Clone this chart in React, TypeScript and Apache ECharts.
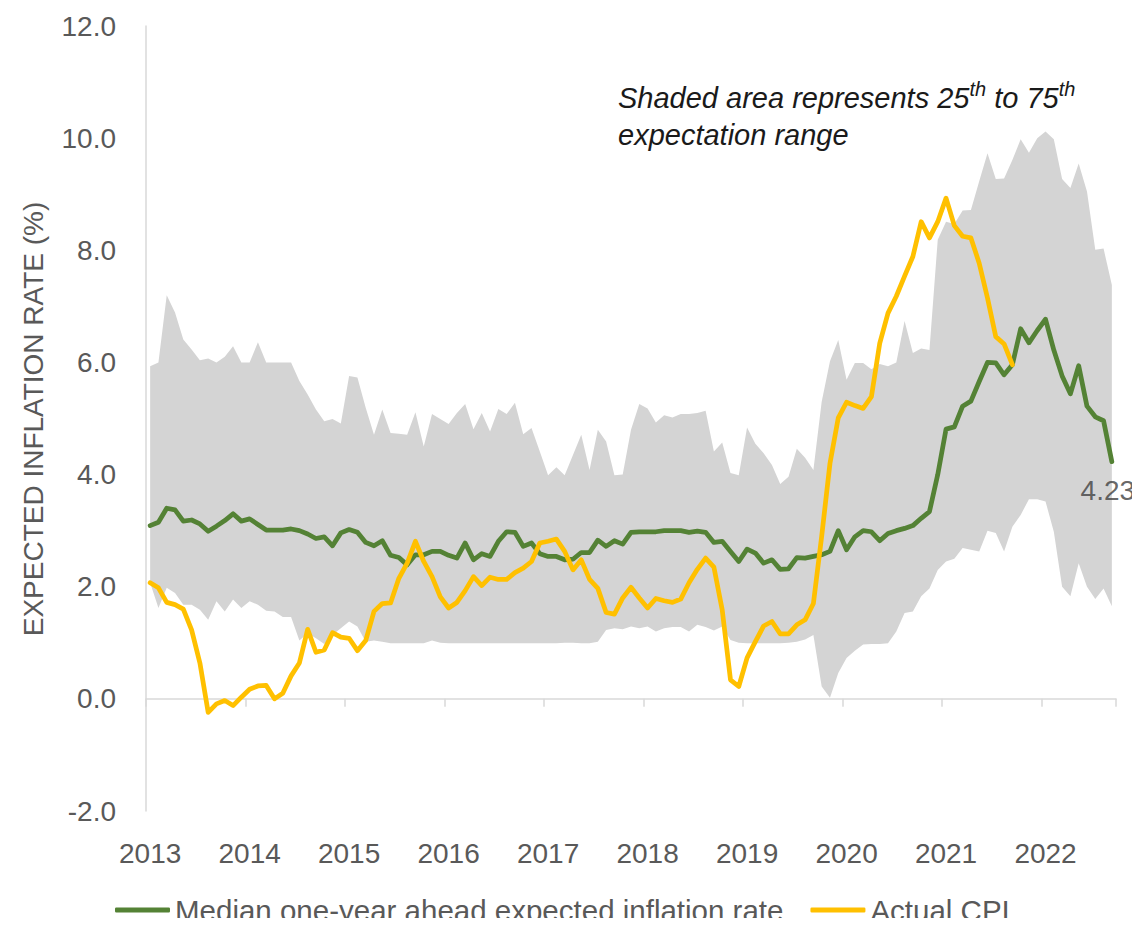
import React, { useEffect, useRef } from 'react';
import * as echarts from 'echarts';

const YEARS = ['2013', '2014', '2015', '2016', '2017', '2018', '2019', '2020', '2021', '2022'];
const MONTHS = ['Jan', 'Feb', 'Mar', 'Apr', 'May', 'Jun', 'Jul', 'Aug', 'Sep', 'Oct', 'Nov', 'Dec'];

// Median one-year ahead expected inflation rate (Jan 2013 - Sep 2022)
const MEDIAN = [
  3.09, 3.15, 3.40, 3.37, 3.17, 3.19, 3.12, 2.99, 3.08, 3.18, 3.30, 3.17,
  3.21, 3.11, 3.01, 3.01, 3.01, 3.03, 3.00, 2.94, 2.86, 2.89, 2.73, 2.96,
  3.02, 2.97, 2.79, 2.73, 2.82, 2.56, 2.52, 2.39, 2.57, 2.57, 2.63, 2.63,
  2.56, 2.51, 2.78, 2.48, 2.59, 2.54, 2.81, 2.98, 2.97, 2.72, 2.78, 2.59,
  2.54, 2.54, 2.48, 2.49, 2.61, 2.61, 2.83, 2.72, 2.82, 2.76, 2.97, 2.98,
  2.98, 2.98, 3.00, 3.00, 3.00, 2.97, 2.99, 2.97, 2.79, 2.81, 2.63, 2.45,
  2.67, 2.60, 2.42, 2.48, 2.31, 2.32, 2.52, 2.51, 2.54, 2.57, 2.63, 3.00,
  2.66, 2.89, 3.00, 2.98, 2.82, 2.95, 3.00, 3.04, 3.09, 3.22, 3.34, 4.00,
  4.81, 4.85, 5.22, 5.31, 5.66, 6.00, 5.99, 5.78, 5.96, 6.60, 6.35, 6.57,
  6.77, 6.22, 5.76, 5.44, 5.94, 5.22, 5.03, 4.96, 4.23,
];

// Actual CPI (Jan 2013 - Sep 2021)
const CPI = [
  2.07, 1.98, 1.72, 1.68, 1.60, 1.23, 0.64, -0.24, -0.09, -0.03, -0.12, 0.03,
  0.17, 0.23, 0.24, 0.00, 0.10, 0.41, 0.64, 1.24, 0.83, 0.87, 1.18, 1.10,
  1.08, 0.86, 1.04, 1.56, 1.70, 1.71, 2.15, 2.42, 2.81, 2.45, 2.18, 1.82,
  1.62, 1.72, 1.93, 2.18, 2.02, 2.17, 2.13, 2.13, 2.25, 2.33, 2.45, 2.78,
  2.81, 2.85, 2.63, 2.30, 2.48, 2.13, 1.97, 1.54, 1.51, 1.80, 1.99, 1.80,
  1.62, 1.79, 1.75, 1.72, 1.78, 2.07, 2.31, 2.51, 2.35, 1.59, 0.34, 0.22,
  0.73, 1.02, 1.30, 1.38, 1.16, 1.16, 1.32, 1.41, 1.70, 2.90, 4.20, 5.01,
  5.29, 5.23, 5.18, 5.39, 6.34, 6.88, 7.18, 7.54, 7.89, 8.51, 8.22, 8.51,
  8.93, 8.44, 8.25, 8.22, 7.77, 7.15, 6.46, 6.33, 5.96,
];

// 75th percentile of expectations
const P75 = [
  5.93, 6.00, 7.20, 6.89, 6.41, 6.23, 6.04, 6.07, 6.00, 6.10, 6.29, 6.00,
  6.00, 6.36, 6.00, 6.00, 6.00, 6.00, 5.67, 5.43, 5.16, 4.95, 4.99, 4.91,
  5.76, 5.73, 5.19, 4.71, 5.16, 4.74, 4.73, 4.71, 5.11, 4.50, 5.08, 4.99,
  4.90, 5.10, 5.26, 4.81, 5.10, 4.77, 5.17, 5.08, 5.28, 4.72, 4.83, 4.41,
  3.99, 4.13, 3.99, 4.35, 4.71, 4.08, 4.80, 4.59, 3.99, 4.00, 4.80, 5.26,
  5.18, 4.93, 5.06, 5.02, 5.08, 5.08, 5.10, 5.14, 4.41, 4.57, 4.03, 3.99,
  4.84, 4.55, 4.38, 4.17, 3.83, 3.96, 4.46, 4.30, 4.08, 5.30, 6.02, 6.40,
  5.69, 5.99, 5.99, 5.88, 5.97, 5.93, 6.00, 6.74, 6.17, 6.25, 6.22, 8.19,
  8.51, 8.47, 8.71, 8.72, 9.23, 9.73, 9.27, 9.28, 9.61, 9.98, 9.74, 10.00,
  10.12, 9.98, 9.27, 9.11, 9.55, 9.05, 8.01, 8.03, 7.38,
];

// 25th percentile of expectations
const P25 = [
  2.07, 1.62, 1.98, 1.89, 1.68, 1.68, 1.59, 1.41, 1.74, 1.56, 1.77, 1.62,
  1.74, 1.68, 1.57, 1.56, 1.46, 1.46, 1.04, 1.17, 1.08, 0.98, 1.14, 1.26,
  1.38, 1.29, 1.02, 1.04, 1.02, 0.99, 0.99, 0.99, 0.99, 0.99, 1.04, 1.00,
  0.99, 0.99, 0.99, 0.99, 0.99, 0.99, 0.99, 0.99, 0.99, 0.99, 0.99, 0.99,
  0.99, 0.99, 1.00, 1.00, 0.99, 0.99, 1.02, 1.23, 1.26, 1.24, 1.29, 1.26,
  1.29, 1.20, 1.26, 1.28, 1.28, 1.20, 1.32, 1.28, 1.22, 1.29, 1.05, 1.00,
  0.99, 0.99, 0.99, 0.99, 0.99, 1.00, 1.02, 1.06, 1.14, 0.22, 0.02, 0.46,
  0.73, 0.86, 0.97, 0.98, 0.98, 0.99, 1.20, 1.53, 1.56, 1.83, 1.97, 2.30,
  2.45, 2.50, 2.69, 2.66, 2.63, 3.00, 2.96, 2.63, 3.07, 3.28, 3.56, 3.56,
  3.52, 2.98, 2.00, 1.83, 2.42, 2.00, 1.78, 1.97, 1.65,
];

const Y_MIN = -2;
const Y_MAX = 12;
const Y_STEP = 2;

const MEDIAN_NAME = 'Median one-year ahead expected inflation rate';
const CPI_NAME = 'Actual CPI';
const Y_TITLE = 'EXPECTED INFLATION RATE (%)';

const CATEGORIES: string[] = [];
YEARS.forEach((y) => MONTHS.forEach((m) => CATEGORIES.push(`${m} ${y}`)));
const CATS = CATEGORIES.slice(0, MEDIAN.length);

const FONT = '"Liberation Sans", Arial, sans-serif';
const GREEN = '#548235';
const YELLOW = '#FFC000';
const AXIS_GRAY = '#D9D9D9';
const TEXT_GRAY = '#595959';

export default function App() {
  const ref = useRef<HTMLDivElement>(null);

  useEffect(() => {
    if (!ref.current) return;
    const chart = echarts.init(ref.current, undefined, { renderer: 'svg' });
    const bandWidth = P75.map((v, i) => +(v - P25[i]).toFixed(2));
    const lastIdx = MEDIAN.length - 1;

    chart.setOption({
      animation: false,
      backgroundColor: '#ffffff',
      textStyle: { fontFamily: FONT },
      grid: {
        left: 146,
        right: 24,
        top: 26,
        bottom: 115,
        containLabel: false,
        outerBoundsMode: 'none',
      },
      legend: {
        data: [{ name: MEDIAN_NAME }, { name: CPI_NAME }],
        left: 110,
        top: 890,
        icon: 'roundRect',
        itemWidth: 55,
        itemHeight: 5,
        itemGap: 27,
        selectedMode: false,
        textStyle: { fontSize: 29.5, color: TEXT_GRAY, fontFamily: FONT },
      },
      xAxis: {
        type: 'category',
        data: CATS,
        boundaryGap: true,
        axisLine: { show: true, onZero: true, lineStyle: { color: AXIS_GRAY, width: 1.5 } },
        axisTick: {
          show: true,
          interval: (i: number) => i % 12 === 0,
          length: 8,
          lineStyle: { color: AXIS_GRAY, width: 1.5 },
        },
        axisLabel: {
          interval: (i: number) => i % 12 === 0,
          formatter: (v: string) => v.slice(-4),
          margin: 28,
          fontSize: 28,
          color: TEXT_GRAY,
          fontFamily: FONT,
        },
        splitLine: { show: false },
      },
      yAxis: {
        type: 'value',
        min: Y_MIN,
        max: Y_MAX,
        interval: Y_STEP,
        axisLine: { show: true, lineStyle: { color: AXIS_GRAY, width: 1.5 } },
        axisTick: { show: false },
        splitLine: { show: false },
        axisLabel: {
          formatter: (v: number) => v.toFixed(1),
          margin: 30,
          fontSize: 28,
          color: TEXT_GRAY,
          fontFamily: FONT,
        },
      },
      series: [
        {
          name: 'p25',
          type: 'line',
          data: P25,
          stack: 'band',
          symbol: 'none',
          silent: true,
          lineStyle: { opacity: 0, width: 0 },
          z: 1,
        },
        {
          name: 'band',
          type: 'line',
          data: bandWidth,
          stack: 'band',
          symbol: 'none',
          silent: true,
          lineStyle: { opacity: 0, width: 0 },
          areaStyle: { color: '#D4D4D4', opacity: 1 },
          z: 1,
        },
        {
          name: MEDIAN_NAME,
          type: 'line',
          data: MEDIAN,
          symbol: 'none',
          color: GREEN,
          lineStyle: { color: GREEN, width: 4.75, cap: 'round', join: 'round' },
          z: 3,
        },
        {
          name: CPI_NAME,
          type: 'line',
          data: CPI,
          symbol: 'none',
          color: YELLOW,
          lineStyle: { color: YELLOW, width: 4.75, cap: 'round', join: 'round' },
          z: 4,
        },
        {
          name: 'lastLabel',
          type: 'scatter',
          data: [[lastIdx, MEDIAN[lastIdx]]],
          symbolSize: 0,
          silent: true,
          z: 5,
          label: {
            show: true,
            position: 'bottom',
            distance: 5,
            offset: [-4, 10],
            formatter: (p: any) => p.value[1].toFixed(2),
            fontSize: 28,
            color: '#404040',
            fontFamily: FONT,
          },
        },
      ],
      graphic: [
        {
          type: 'text',
          x: 33,
          y: 419,
          rotation: Math.PI / 2,
          silent: true,
          style: {
            text: Y_TITLE,
            fontSize: 28,
            fontFamily: FONT,
            fill: TEXT_GRAY,
            align: 'center',
            verticalAlign: 'middle',
          },
        },
        {
          type: 'text',
          x: 618,
          y: 79,
          silent: true,
          style: {
            text: '{n|Shaded area represents 25}{s|th}{n| to 75}{s|th}\n{n|expectation range}',
            align: 'left',
            verticalAlign: 'top',
            fill: '#1a1a1a',
            rich: {
              n: {
                fontSize: 29,
                fontStyle: 'italic',
                fontFamily: FONT,
                lineHeight: 37,
                fill: '#1a1a1a',
                color: '#1a1a1a',
              },
              s: {
                fontSize: 20,
                fontStyle: 'italic',
                fontFamily: FONT,
                lineHeight: 18,
                verticalAlign: 'top',
                fill: '#1a1a1a',
                color: '#1a1a1a',
              },
            },
          },
        },
      ],
    });

    return () => {
      chart.dispose();
    };
  }, []);

  return <div ref={ref} style={{ width: 1140, height: 926, margin: -8 }} />;
}
